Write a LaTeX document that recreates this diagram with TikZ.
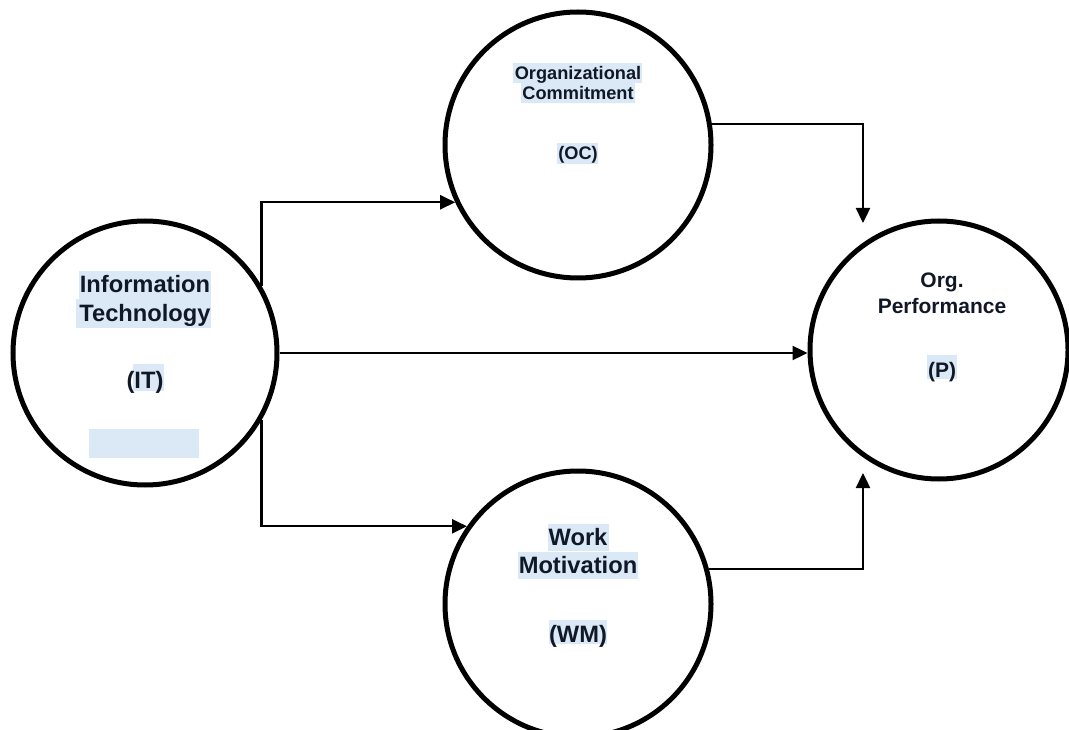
\documentclass[tikz,border=0pt]{standalone}
\usepackage{fontspec}
\setmainfont{Liberation Sans}
\usetikzlibrary{arrows.meta}
\definecolor{hl}{HTML}{DBE9F6}
\definecolor{txt}{HTML}{101828}
\begin{document}
\begin{tikzpicture}[x=1pt,y=-1pt,
  circ/.style={circle,draw,line width=5pt,inner sep=0pt},
  conn/.style={line width=2.4pt,-{Triangle[length=15pt,width=14pt]}},
  lbl/.style={anchor=base,inner sep=0pt,text=txt},
  fbig/.style={font=\fontsize{23.7}{28}\selectfont\bfseries},
  fmid/.style={font=\fontsize{21}{25}\selectfont\bfseries},
  fsml/.style={font=\fontsize{18.2}{21}\selectfont\bfseries}
]
\useasboundingbox (0,0) rectangle (1069,730);
% highlights
\fill[hl] (79,271) rectangle (211,299);
\fill[hl] (76,299) rectangle (211,328);
\fill[hl] (133,364) rectangle (164,391);
\fill[hl] (89,429) rectangle (199,458);
\fill[hl] (513,63) rectangle (642,83);
\fill[hl] (521,83) rectangle (635,103);
\fill[hl] (557,143) rectangle (598,164);
\fill[hl] (927,355) rectangle (957,379);
\fill[hl] (548,524) rectangle (609,551);
\fill[hl] (518,552) rectangle (638,579);
\fill[hl] (549,620) rectangle (607,644);
% circles
\node[circ,minimum size=264pt] (IT) at (145,353) {};
\node[circ,minimum size=266pt] (OC) at (578,145) {};
\node[circ,minimum size=258pt] (P) at (939,350) {};
\node[circ,minimum size=266pt] (WM) at (578,604) {};
% texts
\node[lbl,fbig] (it1) at (145,293) {Information};
\node[lbl,fbig] (it2) at (145,321) {Technology};
\node[lbl,fbig] (it3) at (145,388) {(IT)};
\node[lbl,fsml] (oc1) at (578,80) {Organizational};
\node[lbl,fsml] (oc2) at (578,100) {Commitment};
\node[lbl,fsml] (oc3) at (578,160) {(OC)};
\node[lbl,fmid] (p1) at (942,288) {Org.};
\node[lbl,fmid] (p2) at (942,313) {Performance};
\node[lbl,fmid] (p3) at (942,377) {(P)};
\node[lbl,fbig] (wm1) at (578,545) {Work};
\node[lbl,fbig] (wm2) at (578,573) {Motivation};
\node[lbl,fbig] (wm3) at (578,642) {(WM)};
% connectors
\coordinate (pa) at (863,223);
\coordinate (pb) at (863,473);
\draw[conn] (IT.30) |- (OC.205);
\draw[conn] (IT.-30) |- (WM.145);
\draw[conn] (IT.east) -- (IT.east -| P.west);
\draw[conn] (OC.9) -| (pa);
\draw[conn] (WM.15) -| (pb);
\end{tikzpicture}
\end{document}
